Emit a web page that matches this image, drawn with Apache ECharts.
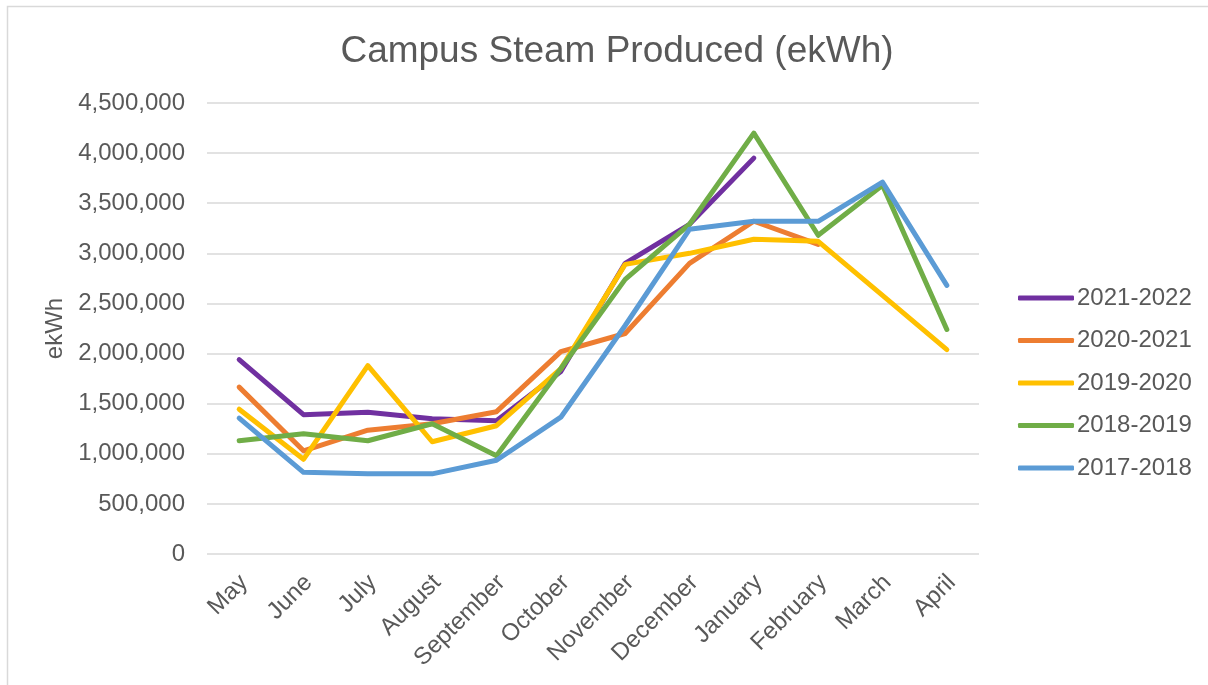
<!DOCTYPE html>
<html>
<head>
<meta charset="utf-8">
<title>Campus Steam Produced</title>
<script src="https://cdn.jsdelivr.net/npm/echarts@6/dist/echarts.min.js"></script>
<style>
  html, body { margin: 0; padding: 0; background: #fff; }
  #chart { width: 1208px; height: 685px; }
</style>
</head>
<body>
<div id="chart"></div>
<script>
// months of the campus fiscal year
const months = ['May', 'June', 'July', 'August', 'September', 'October',
  'November', 'December', 'January', 'February', 'March', 'April'];

// steam produced, ekWh
const fy2122 = [1940000, 1390000, 1415000, 1350000, 1330000, 1820000, 2900000, 3290000, 3950000];
const fy2021 = [1665000, 1030000, 1235000, 1300000, 1420000, 2020000, 2200000, 2900000, 3320000, 3090000];
const fy1920 = [1445000, 945000, 1880000, 1120000, 1280000, 1850000, 2890000, 3000000, 3140000, 3120000, 2580000, 2040000];
const fy1819 = [1130000, 1200000, 1130000, 1300000, 980000, 1850000, 2740000, 3290000, 4200000, 3180000, 3680000, 2240000];
const fy1718 = [1355000, 815000, 800000, 800000, 935000, 1365000, 2280000, 3240000, 3320000, 3320000, 3710000, 2680000];

const seriesNames = ['2021-2022', '2020-2021', '2019-2020', '2018-2019', '2017-2018'];
const seriesData = [fy2122, fy2021, fy1920, fy1819, fy1718];
const seriesColors = ['#7030A0', '#ED7D31', '#FFC000', '#70AD47', '#5B9BD5'];

const textColor = '#595959';
const fontFamily = '"Liberation Sans", Arial, sans-serif';

const chart = echarts.init(document.getElementById('chart'));

chart.setOption({
  animation: false,
  textStyle: { fontFamily: fontFamily },
  graphic: [{
    type: 'rect',
    shape: { x: 7.5, y: 6.5, width: 1300, height: 800 },
    style: { fill: 'none', stroke: '#d9d9d9', lineWidth: 1.5 },
    silent: true
  }],
  title: {
    text: 'Campus Steam Produced (ekWh)',
    left: 612,
    textAlign: 'center',
    top: 28,
    textStyle: {
      color: textColor,
      fontSize: 37,
      fontWeight: 'normal',
      fontFamily: fontFamily
    }
  },
  grid: {
    left: 207,
    right: 229,
    top: 103,
    bottom: 131
  },
  legend: {
    orient: 'vertical',
    left: 1013,
    top: 281,
    itemWidth: 56,
    itemHeight: 5,
    itemGap: 18.5,
    icon: 'roundRect',
    data: seriesNames,
    textStyle: {
      color: textColor,
      fontSize: 24,
      fontFamily: fontFamily,
      padding: [0, 0, 0, -2]
    }
  },
  xAxis: {
    type: 'category',
    data: months,
    boundaryGap: true,
    axisLine: { show: false },
    axisTick: { show: false },
    axisLabel: {
      rotate: 45,
      margin: 20,
      verticalAlign: 'top',
      lineHeight: 14,
      color: textColor,
      fontSize: 24,
      interval: 0,
      fontFamily: fontFamily
    }
  },
  yAxis: {
    type: 'value',
    min: 0,
    max: 4500000,
    interval: 500000,
    name: 'ekWh',
    nameLocation: 'middle',
    nameRotate: 90,
    nameGap: 138,
    nameTextStyle: {
      color: textColor,
      fontSize: 24,
      fontFamily: fontFamily
    },
    axisLine: { show: false },
    axisTick: { show: false },
    splitLine: { lineStyle: { color: '#d9d9d9', width: 1.5 } },
    axisLabel: {
      margin: 22,
      color: textColor,
      fontSize: 24,
      fontFamily: fontFamily,
      formatter: v => v.toLocaleString('en-US')
    }
  },
  series: seriesNames.map((name, i) => ({
    name: name,
    type: 'line',
    data: seriesData[i],
    showSymbol: false,
    symbol: 'none',
    color: seriesColors[i],
    lineStyle: {
      width: 5,
      color: seriesColors[i],
      cap: 'round',
      join: 'round'
    }
  }))
});
</script>
</body>
</html>
